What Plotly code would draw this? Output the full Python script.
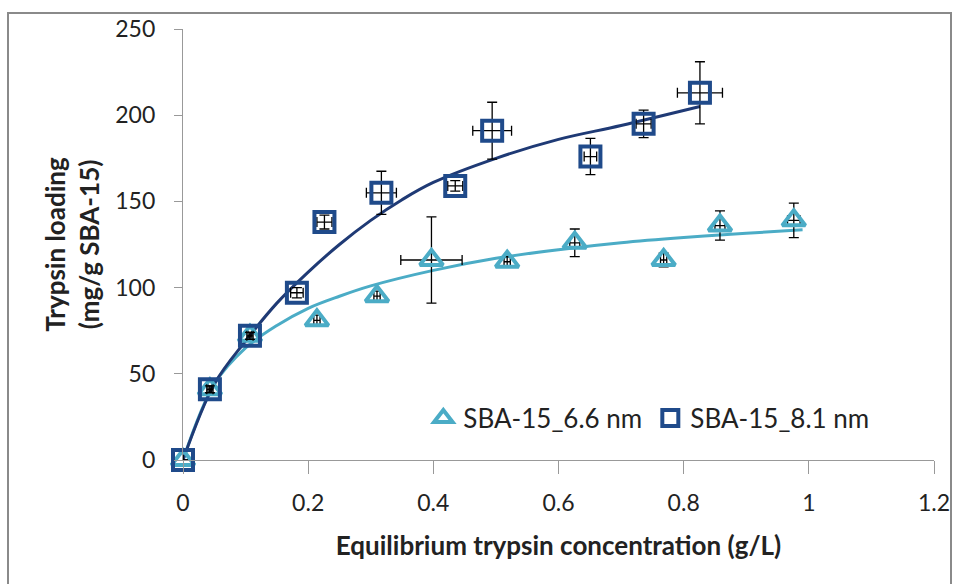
import plotly.graph_objects as go

# 8.1 nm data (squares)
x81 = [0, 0.043, 0.107, 0.182, 0.226, 0.317, 0.435, 0.494, 0.651, 0.736, 0.826]
y81 = [0, 41, 72, 97, 138, 155, 159, 191, 176, 195, 213]
ey81 = [0, 2, 2, 3, 4, 12.5, 3, 16.5, 10.5, 8, 18]
ex81 = [0, 0.005, 0.005, 0.01, 0.012, 0.024, 0.012, 0.031, 0.01, 0.012, 0.036]

# 6.6 nm data (triangles)
x66 = [0, 0.043, 0.107, 0.214, 0.310, 0.397, 0.518, 0.626, 0.768, 0.858, 0.976]
y66 = [0, 41, 72, 81, 95, 116, 115, 126, 116, 136, 139]
ey66 = [0, 2, 2, 3, 3, 25, 3, 8, 4, 8.5, 10]
ex66 = [0, 0.003, 0.003, 0.005, 0.005, 0.049, 0.005, 0.008, 0.005, 0.008, 0.01]

# fitted curves
fit81_x = [0, 0.05, 0.1, 0.15, 0.2, 0.25, 0.3, 0.35, 0.4, 0.5, 0.6, 0.7, 0.826]
fit81_y = [0, 44, 69, 91, 109, 125, 139, 151, 161, 175, 186, 194, 205]
fit66_x = [0, 0.05, 0.1, 0.15, 0.2, 0.25, 0.3, 0.4, 0.5, 0.6, 0.7, 0.8, 0.9, 0.99]
fit66_y = [0, 44, 65, 78, 88, 95, 101, 110, 117, 122, 126, 129, 131.5, 133.5]

x_ticks = [0, 0.2, 0.4, 0.6, 0.8, 1, 1.2]
x_tick_labels = ["0", "0.2", "0.4", "0.6", "0.8", "1", "1.2"]
y_ticks = [0, 50, 100, 150, 200, 250]

dark = "#1f4a8a"
dark_line = "#1f3a75"
light = "#4bacc6"
FONT = "Lato, 'Open Sans', sans-serif"

fig = go.Figure()

fig.add_trace(go.Scatter(x=fit66_x, y=fit66_y, mode="lines",
                         line=dict(color=light, width=3, shape="spline", smoothing=1),
                         showlegend=False, hoverinfo="skip", cliponaxis=False))
fig.add_trace(go.Scatter(x=fit81_x, y=fit81_y, mode="lines",
                         line=dict(color=dark_line, width=3, shape="spline", smoothing=1),
                         showlegend=False, hoverinfo="skip", cliponaxis=False))

fig.add_trace(go.Scatter(
    x=x66, y=y66, mode="markers", name="SBA-15_6.6 nm",
    marker=dict(symbol="triangle-up-open", size=20, color=light, line=dict(width=4, color=light)),
    error_y=dict(type="data", array=ey66, color="black", thickness=1.3, width=5),
    error_x=dict(type="data", array=ex66, color="black", thickness=1.3, width=5),
    cliponaxis=False))

fig.add_trace(go.Scatter(
    x=x81, y=y81, mode="markers", name="SBA-15_8.1 nm",
    marker=dict(symbol="square-open", size=20, color=dark, line=dict(width=4, color=dark)),
    error_y=dict(type="data", array=ey81, color="black", thickness=1.3, width=5),
    error_x=dict(type="data", array=ex81, color="black", thickness=1.3, width=5),
    cliponaxis=False))

fig.update_layout(
    width=958, height=584,
    margin=dict(l=183, r=24, t=29, b=124, autoexpand=False),
    paper_bgcolor="white", plot_bgcolor="white",
    font=dict(family=FONT, size=22, color="#222"),
    showlegend=True,
    legend=dict(x=0.32, y=0.097, xanchor="left", yanchor="middle", orientation="h",
                bgcolor="rgba(0,0,0,0)", font=dict(size=26, family=FONT, color="#222"),
                entrywidth=182, entrywidthmode="pixels", tracegroupgap=0),
    xaxis=dict(range=[0, 1.2], tickvals=x_ticks, ticktext=x_tick_labels, showgrid=False,
               zeroline=False, showline=True, linecolor="#999", linewidth=1.3,
               ticks="outside", ticklen=13, tickcolor="#999", ticklabelstandoff=9,
               tickfont=dict(size=23), automargin=False,
               title=dict(text="<b>Equilibrium trypsin concentration (g/L)</b>", font=dict(size=26), standoff=22)),
    yaxis=dict(range=[0, 250], tickvals=y_ticks, showgrid=False,
               zeroline=False, showline=True, linecolor="#999", linewidth=1.3,
               ticks="outside", ticklen=8, tickcolor="#999", ticklabelstandoff=14,
               tickfont=dict(size=23), automargin=False,
               title=dict(text="<b>Trypsin loading<br>(mg/g SBA-15)</b>", font=dict(size=26), standoff=8)),
    shapes=[dict(type="rect", xref="paper", yref="paper",
                 x0=(8 - 183) / 751, x1=(951 - 183) / 751,
                 y0=(460 - 620) / 431, y1=(460 - 13) / 431,
                 line=dict(color="#8a8a8a", width=2), fillcolor="rgba(0,0,0,0)", layer="below")],
)

fig.write_html("out.html")
